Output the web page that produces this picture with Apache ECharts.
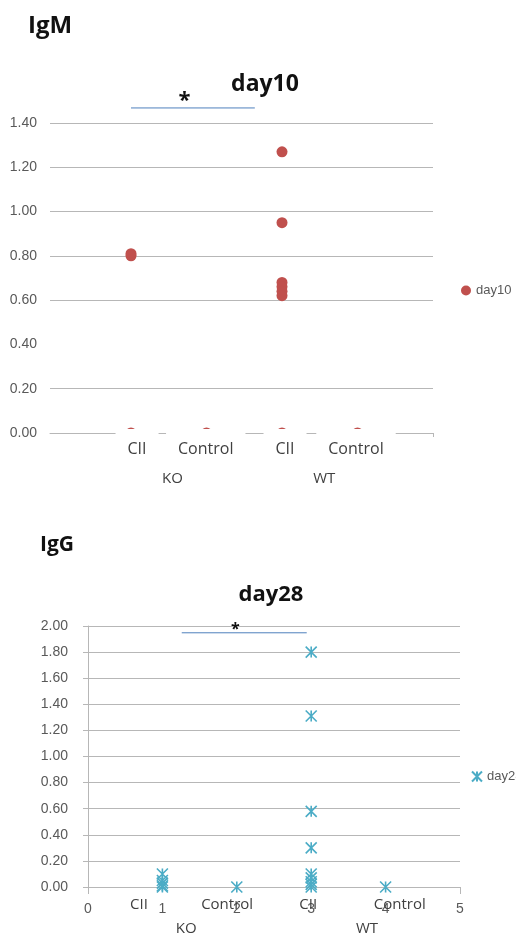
<!DOCTYPE html>
<html><head><meta charset="utf-8">
<script src="https://cdn.jsdelivr.net/npm/echarts@6/dist/echarts.min.js"></script>
<style>html,body{margin:0;padding:0;background:#fff}#c{width:516px;height:940px}</style>
</head><body><div id="c"></div>
<script>
// ---------------- data ----------------
const groups = ['KO', 'WT'];
const categories = ['CII', 'Control', 'CII', 'Control'];
const categoryX = [1, 2, 3, 4];              // x value of each category
// IgM, day10
const igmX     = [1,    1,    1,    2,    3,    3,    3,    3,    3,    3,    3,    4];
const igmDay10 = [0.81, 0.80, 0.00, 0.00, 1.27, 0.95, 0.68, 0.66, 0.64, 0.62, 0.00, 0.00];
// IgG, day28
const iggX     = [1,    1,    1,    1,    1,    2,    3,    3,    3,    3,    3,    3,    3,    3,    3,    4];
const iggDay28 = [0.10, 0.05, 0.03, 0.01, 0.00, 0.00, 1.80, 1.31, 0.58, 0.30, 0.10, 0.07, 0.04, 0.02, 0.00, 0.00];
// axis ticks
const igmYTicks = {min: 0, max: 1.4, step: 0.2};
const iggYTicks = {min: 0, max: 2.0, step: 0.2};
const iggXTicks = {min: 0, max: 5, step: 1};
// significance annotations (data units)
const igmSig = {from: 1.00, to: 2.64, y: 1.468, starX: 1.71, starY: 1.50};
const iggSig = {from: 1.26, to: 2.94, y: 1.948, starX: 1.98, starY: 1.975};

// ---------------- layout / style ----------------
const RED = '#C0504D', BLUE = '#4BACC6', GRID = '#b7b7b7', TICK = '#595959', CAT = '#404040';
const igmLabelAt = [1.08, 1.99, 3.04, 3.98], igmGroupAt = [1.55, 3.56];
const iggLabelAt = [0.685, 1.87, 2.96, 4.19], iggGroupAt = [1.32, 3.75];
function nearestName(list, names) {
  return function (v) {
    let best = 0, d = Infinity;
    list.forEach((p, i) => { if (Math.abs(p - v) < d) { d = Math.abs(p - v); best = i; } });
    return names[best];
  };
}
const fmt2 = v => v.toFixed(2);

const chart = echarts.init(document.getElementById('c'), null, {renderer: 'canvas'});

const igmData = igmX.map((x, i) => [x, igmDay10[i]]);
const iggData = iggX.map((x, i) => [x, iggDay28[i]]);

const titleStyle = (size) => ({fontFamily: 'Open Sans', fontWeight: 'bold', fontSize: size, color: '#111'});
const legendText = {fontFamily: 'Liberation Sans', fontSize: 13, color: TICK};

const option = {
  backgroundColor: '#fff',
  animation: false,
  title: [
    {text: 'IgM', left: 28, top: 14, padding: 0, textStyle: titleStyle(24)},
    {text: 'day10', left: 265, top: 73, padding: 0, textAlign: 'center', textStyle: titleStyle(23)},
    {text: 'IgG', left: 40, top: 535, padding: 0, textStyle: titleStyle(21)},
    {text: 'day28', left: 271, top: 584, padding: 0, textAlign: 'center', textStyle: titleStyle(22)}
  ],
  legend: [
    {data: ['day10'], left: 461, top: 284, padding: 0, itemWidth: 10, itemHeight: 10, itemGap: 5, textStyle: legendText},
    {data: ['day28'], left: 471, top: 770, padding: 0, itemWidth: 10, itemHeight: 10, itemGap: 5, textStyle: legendText}
  ],
  grid: [
    {left: 50, top: 123, width: 383, height: 310, outerBoundsMode: 'none'},
    {left: 88, top: 626, width: 372, height: 261, outerBoundsMode: 'none'}
  ],
  xAxis: [
    // 0: IgM main
    {gridIndex: 0, type: 'value', position: 'bottom', min: -0.073, max: 5,
     axisLine: {show: true, onZero: false, lineStyle: {color: GRID}},
     axisTick: {show: true, customValues: [5], length: 4, lineStyle: {color: GRID}},
     axisLabel: {show: false}, splitLine: {show: false}},
    // 1: IgM category labels (white boxes as in the reference)
    {gridIndex: 0, type: 'value', position: 'bottom', min: -0.073, max: 5, z: 10,
     axisLine: {show: false, onZero: false}, axisTick: {show: false}, splitLine: {show: false},
     axisLabel: {customValues: igmLabelAt, formatter: nearestName(igmLabelAt, categories), margin: -4,
       backgroundColor: '#fff', padding: [12, 12, 3, 12],
       fontFamily: 'Open Sans', fontSize: 16, color: CAT}},
    // 2: IgM group labels
    {gridIndex: 0, type: 'value', position: 'bottom', min: -0.073, max: 5, z: 10,
     axisLine: {show: false, onZero: false}, axisTick: {show: false}, splitLine: {show: false},
     axisLabel: {customValues: igmGroupAt, formatter: nearestName(igmGroupAt, groups), margin: 38,
       fontFamily: 'Open Sans', fontSize: 15, color: CAT}},
    // 3: IgG main numeric
    {gridIndex: 1, type: 'value', position: 'bottom', min: iggXTicks.min, max: iggXTicks.max, interval: iggXTicks.step,
     axisLine: {show: true, onZero: false, lineStyle: {color: GRID}},
     axisTick: {show: true, customValues: [0, 5], length: 7, lineStyle: {color: GRID}},
     axisLabel: {margin: 15, fontFamily: 'Liberation Sans', fontSize: 14, color: TICK},
     splitLine: {show: false}},
    // 4: IgG category labels
    {gridIndex: 1, type: 'value', position: 'bottom', min: 0, max: 5, z: 10,
     axisLine: {show: false, onZero: false}, axisTick: {show: false}, splitLine: {show: false},
     axisLabel: {customValues: iggLabelAt, formatter: nearestName(iggLabelAt, categories), margin: 10,
       fontFamily: 'Open Sans', fontSize: 15, color: CAT}},
    // 5: IgG group labels
    {gridIndex: 1, type: 'value', position: 'bottom', min: 0, max: 5, z: 10,
     axisLine: {show: false, onZero: false}, axisTick: {show: false}, splitLine: {show: false},
     axisLabel: {customValues: iggGroupAt, formatter: nearestName(iggGroupAt, groups), margin: 34,
       fontFamily: 'Open Sans', fontSize: 15, color: CAT}}
  ],
  yAxis: [
    {gridIndex: 0, type: 'value', min: igmYTicks.min, max: igmYTicks.max, interval: igmYTicks.step,
     axisLine: {show: false}, axisTick: {show: false},
     axisLabel: {margin: 13, formatter: fmt2, fontFamily: 'Liberation Sans', fontSize: 14, color: TICK},
     splitLine: {lineStyle: {color: [GRID, GRID, 'rgba(0,0,0,0)', GRID, GRID, GRID, GRID, GRID]}}},
    {gridIndex: 1, type: 'value', min: iggYTicks.min, max: iggYTicks.max, interval: iggYTicks.step,
     axisLine: {show: true, lineStyle: {color: GRID}},
     axisTick: {show: true, length: 5, lineStyle: {color: GRID}},
     axisLabel: {margin: 20, formatter: fmt2, fontFamily: 'Liberation Sans', fontSize: 14, color: TICK},
     splitLine: {lineStyle: {color: GRID}}}
  ],
  series: [
    {name: 'day10', type: 'scatter', xAxisIndex: 0, yAxisIndex: 0, data: igmData,
     symbol: 'circle', symbolSize: 11, itemStyle: {color: RED, opacity: 1}, z: 2},
    {name: 'day28', type: 'scatter', xAxisIndex: 3, yAxisIndex: 1, data: iggData,
     symbol: 'path://M0,0L10,10M10,0L0,10M5,0L5,10', symbolSize: 11,
     itemStyle: {color: 'rgba(0,0,0,0)', borderColor: BLUE, borderWidth: 1.6, opacity: 1}, z: 2}
  ]
};
chart.setOption(option);

// significance bars, positioned through the axes
function sigGraphics(sig, finder, starSize) {
  const a = chart.convertToPixel(finder, [sig.from, sig.y]);
  const b = chart.convertToPixel(finder, [sig.to, sig.y]);
  const s = chart.convertToPixel(finder, [sig.starX, sig.starY]);
  return [
    {type: 'line', z: 20, shape: {x1: a[0], y1: a[1], x2: b[0], y2: b[1]}, style: {stroke: '#4F81BD', lineWidth: 1}},
    {type: 'text', z: 21, x: s[0], y: s[1], style: {text: '*', fontFamily: 'Open Sans', fontWeight: 'bold',
      fontSize: starSize, fill: '#111', align: 'center', verticalAlign: 'middle'}}
  ];
}
chart.setOption({graphic: [].concat(
  sigGraphics(igmSig, {xAxisIndex: 0, yAxisIndex: 0}, 22),
  sigGraphics(iggSig, {xAxisIndex: 3, yAxisIndex: 1}, 16)
)});
</script></body></html>
